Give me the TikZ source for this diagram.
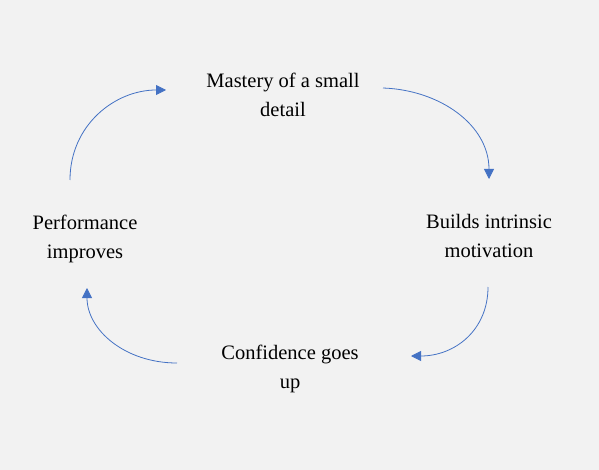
\documentclass[tikz,border=0pt]{standalone}
\usepackage{fontspec}
\setmainfont{Liberation Serif}
\usetikzlibrary{arrows.meta}
\definecolor{bgray}{HTML}{F2F2F2}
\definecolor{cycblue}{HTML}{4472C4}

\begin{document}
\begin{tikzpicture}[
    x=1pt, y=-1pt,
    font=\fontsize{20.5}{29}\selectfont,
    stage/.style={align=center, inner sep=2pt},
    arr/.style={-{Triangle[length=10pt, width=10pt]}, cycblue, line width=0.8pt}
  ]
    \fill[bgray] (0,0) rectangle (599,470);
    \useasboundingbox (0,0) rectangle (599,470);

    \node[stage] (mastery) at (283,95) {Mastery of a small\\detail};
    \node[stage] (builds) at (489,236) {Builds intrinsic\\motivation};
    \node[stage] (conf) at (290,369) {Confidence goes\\up};
    \node[stage] (perf) at (85,239) {Performance\\improves};

    % arrow ends
    \coordinate (a1) at (70,180);
    \coordinate (b1) at (166,90);
    \coordinate (a2) at (383,88);
    \coordinate (b2) at (489,179);
    \coordinate (a3) at (488,287);
    \coordinate (b3) at (411,356);
    \coordinate (a4) at (177,363);
    \coordinate (b4) at (87,288);

    \draw[arr] (a1) .. controls (70,125) and (115,90) .. (b1);
    \draw[arr] (a2) .. controls (440,90) and (489,125) .. (b2);
    \draw[arr] (a3) .. controls (488,330) and (455,356) .. (b3);
    \draw[arr] (a4) .. controls (125,363) and (87,330) .. (b4);
  \end{tikzpicture}
\end{document}
